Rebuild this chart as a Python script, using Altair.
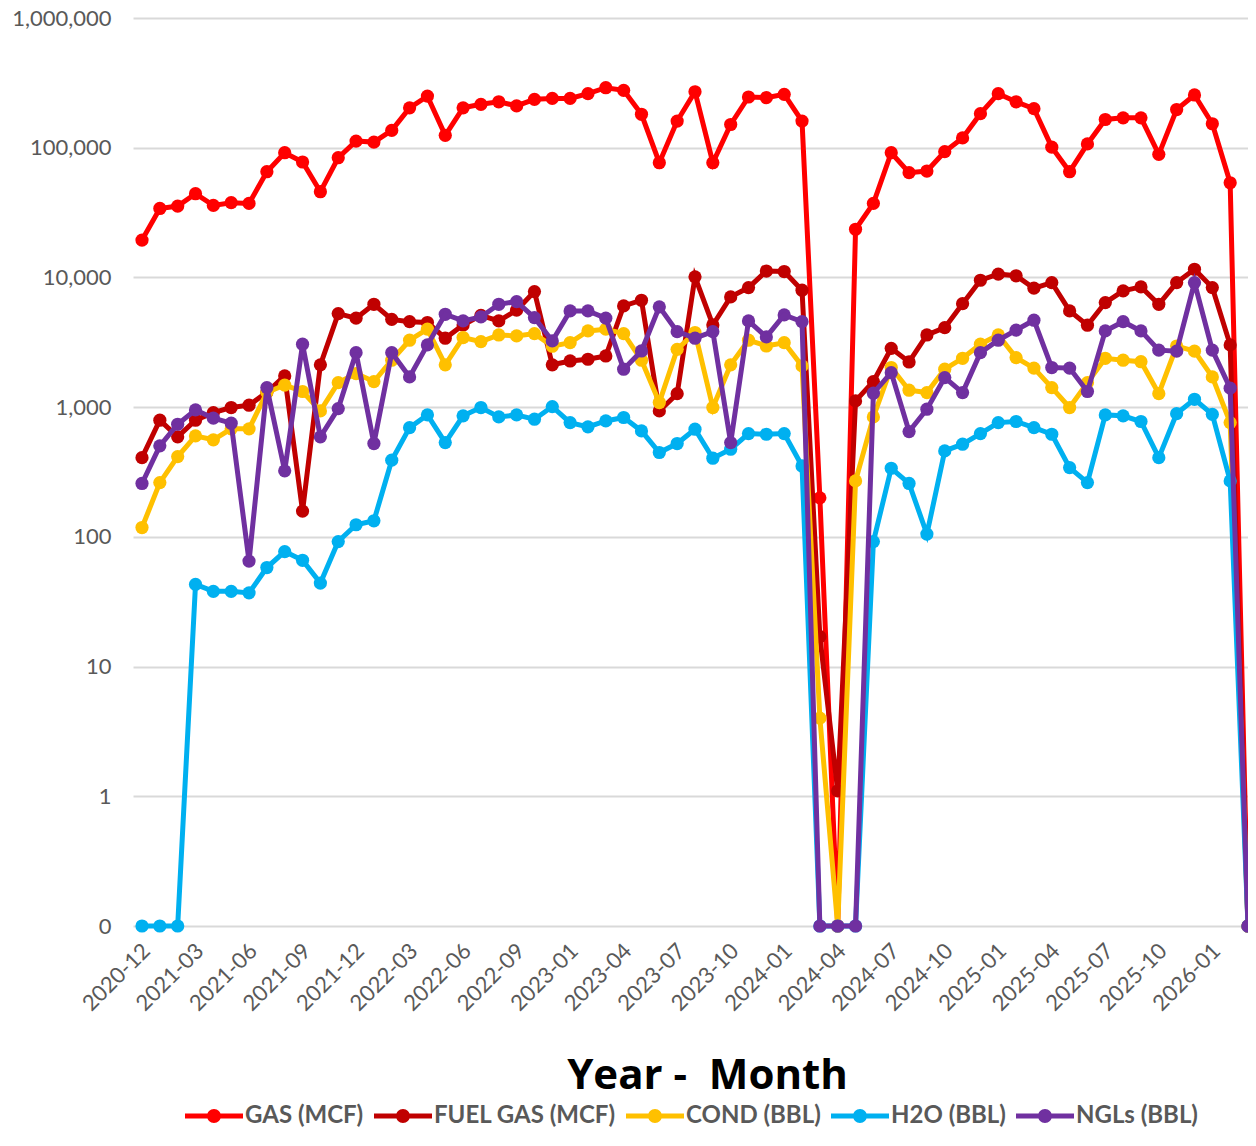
import altair as alt
import pandas as pd

months = (
    [f"2020-12"]
    + [f"2021-{m:02d}" for m in range(1, 13)]
    + [f"2022-{m:02d}" for m in range(1, 12)]
    + [f"2023-{m:02d}" for m in range(1, 13)]
    + [f"2024-{m:02d}" for m in range(1, 13)]
    + [f"2025-{m:02d}" for m in range(1, 13)]
    + [f"2026-{m:02d}" for m in range(1, 4)]
)

series_names = ["GAS (MCF)", "FUEL GAS (MCF)", "COND (BBL)", "H2O (BBL)", "NGLs (BBL)"]
colors = ["#FF0000", "#C00000", "#FFC000", "#00B0F0", "#7030A0"]

gas = [19400, 34000, 35500, 44200, 35900, 37700, 37200, 65300, 91500, 77600,
       45800, 83700, 112500, 110500, 136000, 203000, 250000, 124500, 203000, 216000,
       226000, 210000, 236000, 240000, 240000, 261000, 290000, 277000, 181000, 76600,
       160500, 270000, 76600, 151000, 246000, 243000, 258000, 160500, 200, 0,
       23500, 37200, 91500, 64200, 66100, 93200, 119000, 183000, 261000, 226000,
       200000, 101000, 65300, 107000, 165000, 170000, 170000, 88900, 197000, 255000,
       153000, 53700, 0]

fuel_gas = [408, 793, 590, 793, 908, 993, 1035, 1300, 1740, 158,
            2120, 5260, 4850, 6210, 4750, 4560, 4490, 3400, 4300, 5100,
            4620, 5590, 7780, 2120, 2270, 2340, 2480, 6030, 6670, 935,
            1270, 10100, 4300, 7080, 8350, 11200, 11100, 7970, 17, 1.1,
            1117, 1575, 2840, 2230, 3600, 4100, 6280, 9510, 10600, 10300,
            8260, 9120, 5520, 4280, 6400, 7870, 8450, 6210, 9120, 11560,
            8350, 3020, 0]

cond = [118, 262, 416, 600, 560, 680, 680, 1300, 1480, 1320,
        935, 1545, 1815, 1575, 2300, 3280, 3990, 2120, 3440, 3200,
        3600, 3540, 3690, 2950, 3140, 3870, 3990, 3690, 2300, 1085,
        2790, 3760, 993, 2120, 3280, 2960, 3140, 2080, 4, 0,
        270, 841, 2020, 1350, 1295, 1960, 2380, 3055, 3600, 2410,
        2000, 1415, 993, 1545, 2380, 2300, 2240, 1270, 2960, 2700,
        1710, 760, 0]

h2o = [0, 0, 0, 43, 38, 38, 37, 58, 77, 66,
       44, 92, 124, 133, 390, 695, 872, 533, 857, 993,
       841, 871, 807, 1010, 760, 705, 783, 832, 656, 447,
       524, 676, 404, 474, 625, 618, 625, 352, 0, 0,
       0, 92, 338, 258, 105, 460, 518, 625, 760, 775,
       695, 618, 342, 262, 871, 857, 775, 408, 891, 1150,
       880, 270, 0]

ngls = [258, 503, 738, 952, 822, 752, 65, 1415, 323, 3055,
        590, 975, 2630, 524, 2630, 1710, 3020, 5200, 4620, 4960,
        6210, 6510, 4900, 3240, 5520, 5520, 4850, 1960, 2710, 5930,
        3820, 3400, 3820, 533, 4620, 3480, 5140, 4560, 0, 0,
        0, 1280, 1845, 648, 964, 1690, 1295, 2630, 3280, 3920,
        4680, 2020, 2000, 1320, 3870, 4560, 3870, 2750, 2700, 9120,
        2750, 1400, 0]

y_ticks = [0.1, 1, 10, 100, 1000, 10000, 100000, 1000000]
x_label_idx = list(range(0, len(months), 3))

rows = []
for name, vals in zip(series_names, [gas, fuel_gas, cond, h2o, ngls]):
    for i, (m, v) in enumerate(zip(months, vals)):
        rows.append({"idx": i, "month": m, "series": name, "value": v})
df = pd.DataFrame(rows)

label_js = "[" + ",".join(f"'{m}'" for m in months) + "]"
FONT = "Lato"
GRAY = "#595959"

x_enc = alt.X(
    "idx:Q",
    scale=alt.Scale(domain=[-0.5045, 62], nice=False, zero=False),
    axis=alt.Axis(
        values=x_label_idx,
        labelExpr=f"{label_js}[datum.value]",
        labelAngle=-45, labelAlign="right", labelBaseline="middle",
        labelPadding=21, labelOffset=4, labelOverlap=False, labelBound=False,
        ticks=False, domain=False, grid=False,
        labelFontSize=22, labelColor=GRAY, labelFont=FONT,
        title="Year -\u00a0 Month", titleFont="Open Sans", titleFontSize=42,
        titleFontWeight="bold", titleColor="black",
        titleX=574, titleY=162, titleAlign="center", titleBaseline="alphabetic",
    ),
)

y_enc = alt.Y(
    "plot_value:Q",
    scale=alt.Scale(type="log", domain=[0.1, 1000000], nice=False),
    axis=alt.Axis(
        values=y_ticks,
        labelExpr="datum.value < 0.5 ? '0' : format(datum.value, ',')",
        ticks=False, domain=False, gridColor="#d9d9d9", gridWidth=2,
        labelPadding=22, labelFontSize=22, labelColor=GRAY, labelFont=FONT,
        title=None,
    ),
)

SYMBOL = ("M-1,-0.09L1,-0.09L1,0.09L-1,0.09Z "
          "M0.24,0A0.24,0.24,0,1,1,-0.24,0A0.24,0.24,0,1,1,0.24,0Z")

color_enc = alt.Color(
    "series:N",
    scale=alt.Scale(domain=series_names, range=colors),
    legend=alt.Legend(
        orient="none", legendX=52, legendY=1069, direction="horizontal",
        columns=5, symbolType=SYMBOL, symbolSize=3364, symbolStrokeWidth=0,
        labelFontSize=24, labelFontWeight="bold", labelColor=GRAY,
        labelFont=FONT, labelOffset=2, labelLimit=0, columnPadding=10,
        title=None, padding=0,
    ),
)

layers = []
for name in series_names:
    base = (
        alt.Chart(df)
        .transform_filter(alt.datum.series == name)
        .transform_calculate(plot_value="max(datum.value, 0.1)")
    )
    pts = base.mark_circle(size=175, opacity=1).encode(x=x_enc, y=y_enc, color=color_enc)
    line = base.mark_line(strokeWidth=5).encode(x=x_enc, y=y_enc, color=color_enc)
    layers += [pts, line]

chart = (
    alt.layer(*layers)
    .properties(
        width=1115, height=908,
        autosize=alt.AutoSizeParams(type="none"),
        padding={"left": 125, "top": 10, "right": 0, "bottom": 206},
        background="white",
    )
    .configure(font=FONT)
    .configure_view(strokeWidth=0, stroke="transparent")
    .configure_axis(domain=False)
)

chart.save("out.html", embed_options={"renderer": "svg", "actions": False})
